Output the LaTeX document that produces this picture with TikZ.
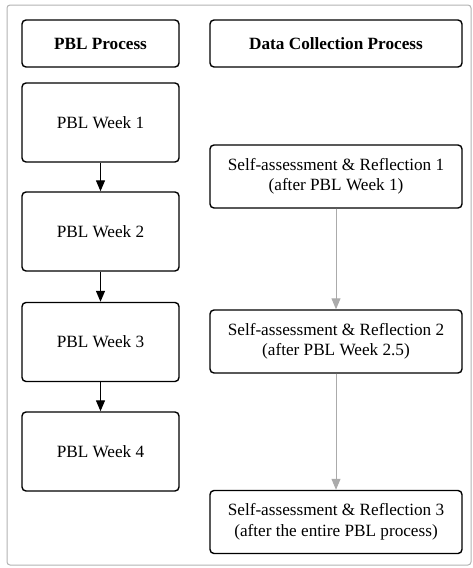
\documentclass[tikz,border=0pt]{standalone}
\usepackage{fontspec}
\setmainfont{Liberation Serif}
\usetikzlibrary{arrows.meta}
\begin{document}
\begin{tikzpicture}[x=1pt,y=-1pt,
    box/.style={draw,line width=1.4pt,rounded corners=4pt,fill=white,
                align=center,font=\fontsize{17.2}{20.5}\selectfont,inner sep=0pt},
    weekbox/.style={box,minimum width=157pt,minimum height=79pt},
    headbox/.style={box,minimum height=47pt,font=\fontsize{17.2}{20.5}\selectfont\bfseries},
    databox/.style={box,minimum width=252pt,minimum height=63pt},
    flow/.style={-{Triangle[length=11pt,width=9pt]},line width=1.3pt},
    dataflow/.style={-{Triangle[length=11pt,width=9pt]},line width=1pt,draw=black!33,fill=black!33}]
            \useasboundingbox (0,0) rectangle (473,568);
            \draw[black!30,line width=1pt,rounded corners=3pt] (7,5) rectangle (471,565);
            \node[headbox,minimum width=157pt] (pblhead) at (100.5,43.5) {PBL Process};
            \node[headbox,minimum width=252pt] (datahead) at (336,43.5) {Data Collection Process};
            \node[weekbox] (week1) at (100.5,122.5) {PBL Week 1};
            \node[weekbox] (week2) at (100.5,231.5) {PBL Week 2};
            \node[weekbox] (week3) at (100.5,342) {PBL Week 3};
            \node[weekbox] (week4) at (100.5,451.5) {PBL Week 4};
            \node[databox] (refl1) at (336,176.5) {Self-assessment \& Reflection 1\\(after PBL Week 1)};
            \node[databox] (refl2) at (336,341.5) {Self-assessment \& Reflection 2\\(after PBL Week 2.5)};
            \node[databox] (refl3) at (336,522) {Self-assessment \& Reflection 3\\(after the entire PBL process)};
            \draw[flow] (week1) -- (week2);
            \draw[flow] (week2) -- (week3);
            \draw[flow] (week3) -- (week4);
            \draw[dataflow] (refl1) -- (refl2);
            \draw[dataflow] (refl2) -- (refl3);
        \end{tikzpicture}
\end{document}
